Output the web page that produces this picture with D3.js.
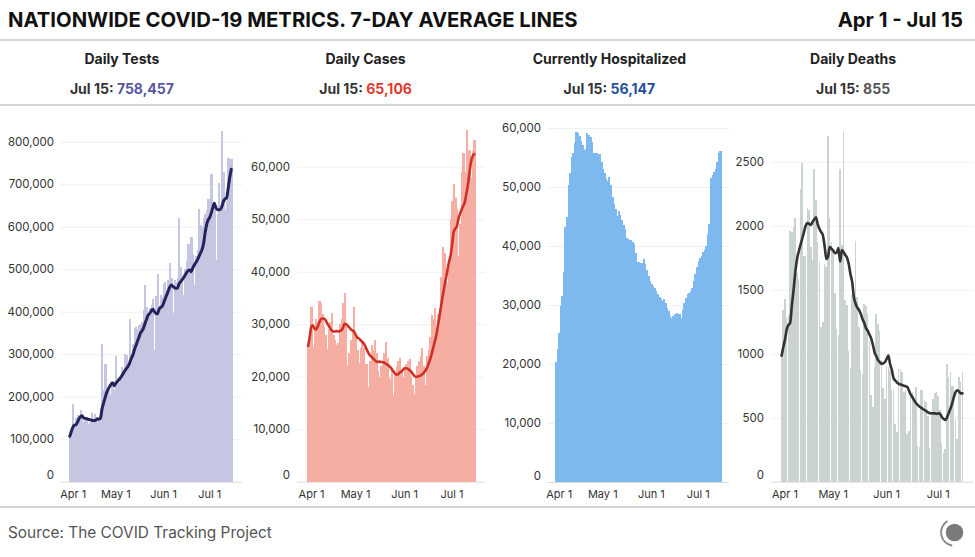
<!DOCTYPE html>
<html><head><meta charset="utf-8">
<script src="https://cdn.jsdelivr.net/npm/d3@7"></script>
<style>
html,body{margin:0;padding:0;background:#fff;}
svg{display:block;}
text{font-family:Inter,"Noto Sans",sans-serif;}
</style></head><body>
<svg id="chart" width="975" height="557"></svg>
<script>
// ---------- DATA ----------
const chartTitle = "NATIONWIDE COVID-19 METRICS. 7-DAY AVERAGE LINES";
const dateRangeLabel = "Apr 1 - Jul 15";
const sourceLabel = "Source: The COVID Tracking Project";
const startDate = "2020-04-01";
const endDate = "2020-07-15";
const xTickDates = ["2020-04-01","2020-05-01","2020-06-01","2020-07-01"];
const xTickLabels = ["Apr 1","May 1","Jun 1","Jul 1"];
const panelTitles = ["Daily Tests","Daily Cases","Currently Hospitalized","Daily Deaths"];
const latestDateLabel = "Jul 15: ";
const latestValues = ["758,457","65,106","56,147","855"];

const testsTicks = [0,100000,200000,300000,400000,500000,600000,700000,800000];
const casesTicks = [0,10000,20000,30000,40000,50000,60000];
const hospTicks = [0,10000,20000,30000,40000,50000,60000];
const deathsTicks = [0,500,1000,1500,2000,2500];

const testsDaily = [105000,122000,183000,128000,150000,158000,150000,168000,155000,140000,
148000,152000,136000,140000,162000,145000,160000,150000,140000,143000,
150000,324000,215000,278000,212000,215000,205000,238000,228000,215000,
296000,245000,232000,252000,270000,258000,300000,298000,272000,382000,
300000,325000,362000,365000,360000,368000,370000,375000,405000,463000,
410000,385000,408000,415000,430000,310000,438000,488000,405000,440000,
435000,465000,470000,450000,475000,514000,480000,396000,475000,470000,
480000,620000,505000,480000,440000,500000,520000,560000,530000,576000,
535000,463000,530000,545000,641000,605000,600000,620000,630000,640000,
665000,660000,725000,655000,650000,522000,630000,702000,650000,826000,
728000,640000,660000,762000,760000,758457];
const testsAvg = [107000,118000,128000,133000,134000,140000,148000,153000,155000,150000,
149000,148000,147000,146000,145000,144000,144000,145000,148000,147000,
150000,172000,185000,198000,210000,218000,224000,230000,232000,226000,
232000,236000,240000,245000,250000,256000,262000,267000,272000,280000,
290000,298000,310000,320000,330000,340000,350000,355000,362000,373000,
383000,392000,396000,402000,406000,400000,396000,395000,405000,410000,
412000,420000,430000,439000,448000,458000,463000,460000,457000,455000,
455000,465000,470000,475000,480000,486000,492000,497000,498000,494000,
503000,510000,516000,522000,530000,538000,546000,560000,585000,605000,
616000,622000,632000,645000,655000,645000,640000,640000,641000,648000,
660000,665000,668000,690000,715000,735000];

const casesDaily = [25500,27000,33300,25600,29000,31000,30500,34500,34100,32000,
29500,28000,25200,29000,30500,32100,28000,27000,26000,26500,
30000,31000,34000,36000,29500,22200,24500,27000,29000,33200,
28000,25000,22600,25500,27000,25500,22500,22500,18100,23000,
26000,25000,27000,24500,21000,20000,22000,23000,24500,26700,
23500,20000,19500,21500,16500,20500,22000,23000,23500,21000,
20000,21500,22500,23000,23300,20000,18500,16800,20000,22000,
23000,24000,25400,22000,18400,24000,25000,27500,31800,31000,
33000,27500,32000,33000,39000,44800,43500,40000,37800,42000,
50000,53500,56700,54000,52000,42900,49000,59000,62600,59000,
66900,63000,63200,58000,63000,65106];
const casesAvg = [25800,27500,29500,29800,29200,29000,29500,30300,30900,31100,
31100,30800,30200,29700,29200,28800,28600,28600,28700,28600,
28700,28800,29300,30100,30000,29700,29400,29000,28800,28600,
28000,27500,27300,27000,26700,26400,25900,25200,24600,24100,
23800,23500,23200,22900,22800,22900,22800,22800,22700,22500,
22300,22100,21800,21400,21000,20600,20400,20500,20800,21000,
21300,21600,21600,21500,21300,21000,20600,20200,20000,20000,
20100,20200,20400,20700,21100,21600,22300,23200,24200,25400,
26600,27800,29600,31400,33300,35200,37000,38500,40200,41800,
43000,45000,47500,48200,48600,50000,51000,51800,52500,53200,
54800,56500,58800,61000,62000,62400];

const hospDaily = [20400,22500,25300,29800,31600,35600,43200,44900,50400,52300,
55100,55800,57500,59400,59200,58600,57800,57200,56200,56400,
59200,58800,58400,57600,55800,55700,55700,55600,55600,54300,
53100,52300,51400,51000,51700,50300,48300,47200,46200,45100,
45900,45200,44400,43600,42800,41400,41200,41100,41000,40600,
40400,38800,37300,37300,37200,37200,37800,37000,36000,35000,
34000,33600,33200,32800,32300,31800,31300,31000,30600,31100,
30400,29500,28900,28100,27800,28200,28500,28600,28500,28500,
27800,29200,30300,31200,31800,32100,32300,32800,34000,35200,
36500,37400,37900,38300,38900,39300,40000,42000,43700,51600,
52000,52500,53000,54300,55700,56147];

const deathsDaily = [990,1340,1430,1280,1300,1960,1950,1990,2060,1630,
1580,2290,2490,1760,1760,2140,2120,1830,1730,2440,
2200,1870,1720,1210,1245,1700,1680,2700,2060,1875,
1795,1474,1190,1150,2440,1850,2734,1420,1380,1020,
890,1460,1420,1880,1440,1210,870,845,1390,1370,
1310,1100,680,580,900,1310,1230,1180,950,730,
650,900,900,870,720,720,450,390,880,880,
860,700,720,375,400,700,700,650,740,280,
270,715,715,640,620,510,260,530,650,690,
700,670,560,300,225,255,920,820,860,750,
750,480,330,820,780,855];
const deathsAvg = [985,1050,1110,1190,1225,1240,1380,1500,1640,1740,
1800,1850,1900,1950,2000,2020,2015,2005,2030,2050,
2065,2010,1975,1950,1925,1840,1740,1760,1835,1820,
1805,1785,1790,1825,1720,1810,1795,1770,1750,1700,
1620,1560,1440,1390,1360,1340,1310,1270,1240,1200,
1180,1150,1120,1070,1010,980,950,935,920,925,
935,960,985,920,875,810,790,775,765,760,
755,750,745,740,710,680,660,635,615,600,
588,578,568,560,552,542,536,535,534,534,
530,535,530,505,492,482,500,535,570,610,
660,700,715,705,690,690];

// ---------- LAYOUT / STYLE ----------
const parse = d3.utcParse("%Y-%m-%d");
const dates = d3.utcDay.range(parse(startDate), d3.utcDay.offset(parse(endDate), 1));
const commaFmt = d3.format(",");
const plainFmt = d3.format("d");

const panels = [
  {title:panelTitles[0], latest:latestValues[0], latestColor:"#5856a2", daily:testsDaily, avg:testsAvg, ticks:testsTicks, fmt:commaFmt,
   barColor:"#c6c6e3", lineColor:"#25235c", lineW:3, cx:121.9, labelRight:54, gridStart:60, gridEnd:242, barStart:69, barEnd:232, yTopPx:141.7, yZeroPx:481.7, gap:false},
  {title:panelTitles[1], latest:latestValues[1], latestColor:"#e0392e", daily:casesDaily, avg:casesAvg, ticks:casesTicks, fmt:commaFmt,
   barColor:"#f6ada2", lineColor:"#cf3026", lineW:2.6, cx:365.6, labelRight:290, gridStart:297, gridEnd:485, barStart:307.3, barEnd:475, yTopPx:166.7, yZeroPx:481.7, gap:false},
  {title:panelTitles[2], latest:latestValues[2], latestColor:"#1f4f9d", daily:hospDaily, avg:null, ticks:hospTicks, fmt:commaFmt,
   barColor:"#7db8ee", lineColor:null, lineW:0, cx:609.4, labelRight:541, gridStart:547, gridEnd:729, barStart:555, barEnd:721, yTopPx:128, yZeroPx:482, gap:false},
  {title:panelTitles[3], latest:latestValues[3], latestColor:"#555555", daily:deathsDaily, avg:deathsAvg, ticks:deathsTicks, fmt:plainFmt,
   barColor:"#cbd2d2", lineColor:"#333333", lineW:2.6, cx:853.1, labelRight:764, gridStart:771, gridEnd:973, barStart:780.7, barEnd:963.3, yTopPx:161.7, yZeroPx:481.7, gap:true}
];

const svg = d3.select("#chart");
svg.append("rect").attr("width",975).attr("height",557).attr("fill","#fff");

// Title
const title = svg.append("text").attr("x",8).attr("y",27).attr("font-weight",700).attr("font-size",19).attr("fill","#111").text(chartTitle);
const tw = title.node().getComputedTextLength();
const fs = 19*570/tw;
title.attr("font-size", fs);
svg.append("text").attr("x",963).attr("y",27).attr("text-anchor","end").attr("font-weight",700).attr("font-size",fs).attr("fill","#111").text(dateRangeLabel);

// separators
[40,105,507].forEach(y=>{
  svg.append("line").attr("x1",0).attr("x2",975).attr("y1",y).attr("y2",y).attr("stroke","#c9c9c9").attr("stroke-width",1.5);
});

panels.forEach((p,pi)=>{
  const g = svg.append("g");
  g.append("text").attr("x",p.cx).attr("y",64).attr("text-anchor","middle").attr("font-weight",700).attr("font-size",14).attr("fill","#222").text(p.title);
  const sub = g.append("text").attr("x",p.cx).attr("y",94).attr("text-anchor","middle").attr("font-weight",700).attr("font-size",14);
  sub.append("tspan").attr("fill","#333").text(latestDateLabel);
  sub.append("tspan").attr("fill",p.latestColor).text(p.latest);

  const x = d3.scaleUtc().domain([dates[0], d3.utcDay.offset(dates[dates.length-1],1)]).range([p.barStart,p.barEnd]);
  const step = x(dates[1]) - x(dates[0]);
  const tMax = p.ticks[p.ticks.length-1];
  const y = d3.scaleLinear().domain([0,tMax]).range([p.yZeroPx,p.yTopPx]);

  const ax = g.append("g").attr("transform",`translate(${p.gridStart},0)`)
    .call(d3.axisLeft(y).tickValues(p.ticks).tickFormat(p.fmt).tickSize(-(p.gridEnd-p.gridStart)).tickPadding(p.gridStart-p.labelRight));
  ax.select(".domain").remove();
  ax.selectAll(".tick line").attr("stroke", d=> d===0 ? "#dcdcdc" : "#f0f0f0").attr("stroke-width",1);
  ax.selectAll(".tick text").attr("font-size",11.5).attr("fill","#333").attr("font-family","Inter, sans-serif");
  ax.selectAll(".tick text").filter(d=>d===0).attr("y",-6.5);

  const bars = g.append("g").attr("shape-rendering","crispEdges");
  bars.selectAll("rect").data(p.daily).join("rect")
    .attr("x",(d,i)=>x(dates[i]))
    .attr("width", p.gap ? step*0.88 : step+0.6)
    .attr("y",d=>y(d))
    .attr("height",d=>p.yZeroPx-y(d))
    .attr("fill",p.barColor);

  if (p.avg){
    const line = d3.line().x((d,i)=>x(dates[i])+step/2).y(d=>y(d)).curve(d3.curveMonotoneX);
    g.append("path").datum(p.avg).attr("d",line).attr("fill","none").attr("stroke",p.lineColor)
      .attr("stroke-width",p.lineW).attr("stroke-linejoin","round").attr("stroke-linecap","round");
  }

  xTickDates.forEach((ds,i)=>{
    const dt = parse(ds);
    g.append("text").attr("x", x(dt)+step/2 + (i===0?3.5:0)).attr("y",497.5).attr("text-anchor","middle")
      .attr("font-size",11).attr("fill","#333").text(xTickLabels[i]);
  });
});

const src = svg.append("text").attr("x",8).attr("y",538).attr("font-size",15).attr("fill","#555").text(sourceLabel);
const sw = src.node().getComputedTextLength();
src.attr("font-size", 15*264/sw);

const logo = svg.append("g").attr("transform","translate(954.5,532.5)");
logo.append("circle").attr("r",8.8).attr("fill","#7a7a7a");
logo.append("path").attr("d", d3.arc()({innerRadius:12.4,outerRadius:14.4,startAngle:190*Math.PI/180,endAngle:328*Math.PI/180})).attr("fill","#8a8a8a");
</script>
</body></html>
